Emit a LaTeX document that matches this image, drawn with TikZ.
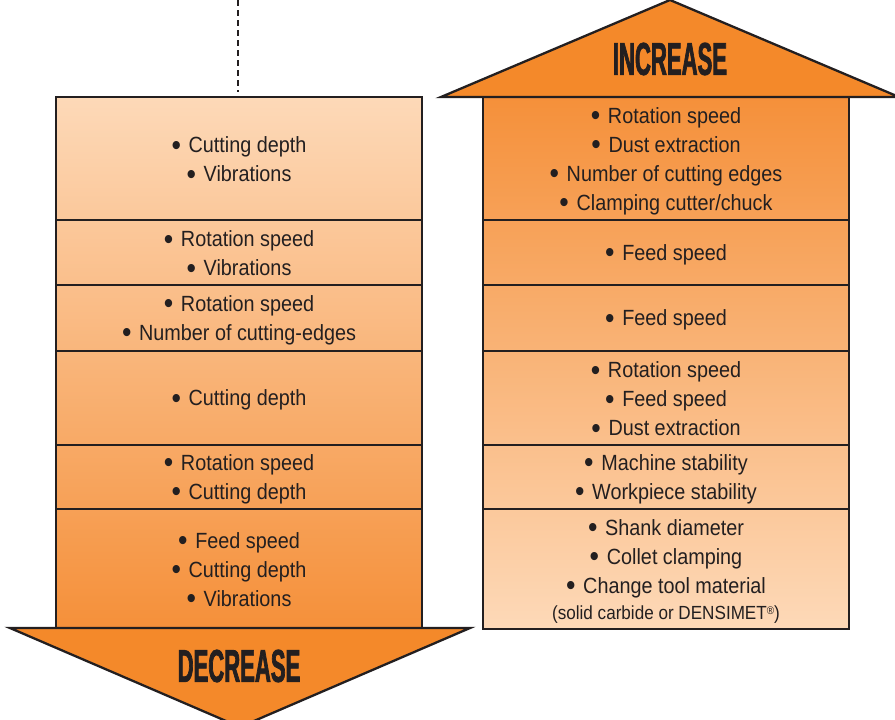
\documentclass[tikz,border=0pt]{standalone}
\usepackage{fontspec}
\usepackage{graphicx}
\setmainfont{Liberation Sans}[FakeStretch=0.9]
\newfontface\headfont{Liberation Sans Bold}[FakeStretch=0.48,FakeBold=1.5]
\definecolor{lightor}{HTML}{FDD9B8}
\definecolor{darkor}{HTML}{F5903A}
\definecolor{arrowor}{HTML}{F4892A}
\definecolor{edge}{HTML}{231F20}
\definecolor{ink}{HTML}{231F20}
\newcommand{\bl}{\raisebox{-2.5pt}{\fontsize{30}{29}\selectfont •}\hspace{0.35em}}
\begin{document}
\begin{tikzpicture}[x=1pt,y=-1pt,
  rowbox/.style={draw=edge, line width=2.3pt, minimum width=366pt, inner sep=0pt},
  txt/.style={align=center, text=ink, inner sep=0pt, font=\fontsize{22}{29}\selectfont},
  arrowhead/.style={fill=arrowor, draw=edge, line width=2.3pt, line join=miter},
  headtxt/.style={text=ink, inner sep=0pt, font=\headfont\fontsize{46}{46}\selectfont},
  guide/.style={draw=edge, line width=2.3pt, dash pattern=on 6pt off 4pt}]
\useasboundingbox (0,0) rectangle (895,720);
% gradients
\shade[top color=lightor, bottom color=darkor] (56,97) rectangle (422,628);
\shade[top color=darkor, bottom color=lightor] (483,97) rectangle (849,629);
% left column boxes
\node[rowbox, minimum height=123pt] (L1) at (239,158.5) {};
\node[rowbox, minimum height=65pt] (L2) at (239,252.5) {};
\node[rowbox, minimum height=66pt] (L3) at (239,318) {};
\node[rowbox, minimum height=94pt] (L4) at (239,398) {};
\node[rowbox, minimum height=64pt] (L5) at (239,477) {};
\node[rowbox, minimum height=119pt] (L6) at (239,568.5) {};
% right column boxes
\node[rowbox, minimum height=123pt] (R1) at (666,158.5) {};
\node[rowbox, minimum height=65pt] (R2) at (666,252.5) {};
\node[rowbox, minimum height=66pt] (R3) at (666,318) {};
\node[rowbox, minimum height=94pt] (R4) at (666,398) {};
\node[rowbox, minimum height=64pt] (R5) at (666,477) {};
\node[rowbox, minimum height=120pt] (R6) at (666,569) {};
% texts
\node[txt] (L1t) at ([yshift=-2pt]L1.center) {\bl Cutting depth\\\bl Vibrations};
\node[txt] (L2t) at ([yshift=-2pt]L2.center) {\bl Rotation speed\\\bl Vibrations};
\node[txt] (L3t) at ([yshift=-2pt]L3.center) {\bl Rotation speed\\\bl Number of cutting-edges};
\node[txt] (L4t) at ([yshift=-2pt]L4.center) {\bl Cutting depth};
\node[txt] (L5t) at ([yshift=-2pt]L5.center) {\bl Rotation speed\\\bl Cutting depth};
\node[txt] (L6t) at ([yshift=-2pt]L6.center) {\bl Feed speed\\\bl Cutting depth\\\bl Vibrations};
\node[txt] (R1t) at ([yshift=-2.5pt]R1.center) {\bl Rotation speed\\\bl Dust extraction\\\bl Number of cutting edges\\\bl Clamping cutter/chuck};
\node[txt] (R2t) at ([yshift=-2pt]R2.center) {\bl Feed speed};
\node[txt] (R3t) at ([yshift=-2pt]R3.center) {\bl Feed speed};
\node[txt] (R4t) at ([yshift=-2pt]R4.center) {\bl Rotation speed\\\bl Feed speed\\\bl Dust extraction};
\node[txt] (R5t) at ([yshift=-2pt]R5.center) {\bl Machine stability\\\bl Workpiece stability};
\node[txt] (R6t) at ([yshift=-2pt]R6.center) {\bl Shank diameter\\\bl Collet clamping\\\bl Change tool material\\[-3pt]{\fontsize{19}{24}\selectfont (solid carbide or DENSIMET\raisebox{5pt}{\fontsize{11}{11}\selectfont ®})}};
% arrow heads
\draw[arrowhead] (10,628) -- (240,727) -- (470,628) -- cycle;
\draw[arrowhead] (441,97) -- (670,0) -- (899,97) -- cycle;
\node[headtxt] (dec) at (239,666) {DECREASE};
\node[headtxt] (inc) at (670,59) {INCREASE};
% dashed guide
\coordinate (dtop) at (238,0);
\coordinate (dbot) at (238,92);
\draw[guide] (dtop) -- (dbot);
\end{tikzpicture}
\end{document}
